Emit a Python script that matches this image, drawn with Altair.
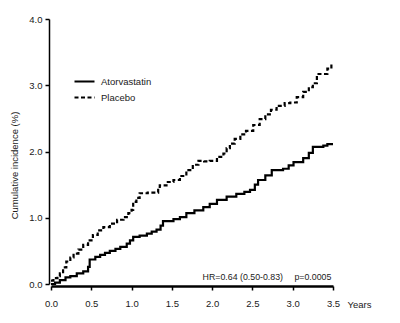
import altair as alt
import pandas as pd

# Atorvastatin (solid)
atorva_t = [0.00, 0.05, 0.11, 0.18, 0.24, 0.32, 0.40, 0.46, 0.48, 0.55, 0.61, 0.67, 0.73, 0.80,
            0.86, 0.94, 0.98, 1.02, 1.10, 1.19, 1.25, 1.31, 1.36, 1.39, 1.52, 1.60, 1.68, 1.78,
            1.89, 1.97, 2.06, 2.18, 2.30, 2.40, 2.47, 2.53, 2.57, 2.66, 2.74, 2.88, 2.95, 3.01,
            3.13, 3.20, 3.25, 3.38, 3.43, 3.50]
atorva_v = [0.00, 0.02, 0.06, 0.10, 0.12, 0.16, 0.19, 0.26, 0.37, 0.41, 0.44, 0.47, 0.50, 0.53,
            0.56, 0.61, 0.66, 0.71, 0.73, 0.76, 0.79, 0.82, 0.88, 0.95, 0.98, 1.01, 1.07, 1.11,
            1.16, 1.21, 1.27, 1.32, 1.36, 1.39, 1.42, 1.50, 1.57, 1.64, 1.72, 1.74, 1.79, 1.84,
            1.90, 1.98, 2.07, 2.09, 2.11, 2.11]

# Placebo (dashed)
placebo_t = [0.00, 0.03, 0.08, 0.11, 0.15, 0.19, 0.24, 0.28, 0.34, 0.40, 0.46, 0.52, 0.58, 0.65,
             0.73, 0.82, 0.90, 0.96, 1.00, 1.02, 1.06, 1.10, 1.20, 1.29, 1.33, 1.35, 1.45, 1.52,
             1.60, 1.68, 1.76, 1.83, 1.90, 1.97, 2.06, 2.14, 2.18, 2.22, 2.28, 2.35, 2.42, 2.51,
             2.59, 2.66, 2.73, 2.80, 2.90, 2.97, 3.05, 3.13, 3.20, 3.25, 3.30, 3.38, 3.43, 3.48]
placebo_v = [0.05, 0.09, 0.12, 0.16, 0.25, 0.34, 0.40, 0.46, 0.52, 0.59, 0.66, 0.74, 0.81, 0.86,
             0.91, 0.97, 1.01, 1.07, 1.12, 1.24, 1.30, 1.37, 1.38, 1.38, 1.44, 1.49, 1.54, 1.57,
             1.63, 1.72, 1.80, 1.86, 1.85, 1.86, 1.92, 1.97, 2.05, 2.12, 2.19, 2.26, 2.31, 2.40,
             2.49, 2.56, 2.63, 2.69, 2.73, 2.74, 2.82, 2.90, 2.97, 3.03, 3.17, 3.17, 3.25, 3.34]

groups = ["Atorvastatin", "Placebo"]
x_ticks = [0.0, 0.5, 1.0, 1.5, 2.0, 2.5, 3.0, 3.5]
y_ticks = [0.0, 0.5, 1.0, 1.5, 2.0, 2.5, 3.0, 3.5, 4.0]
annotation = ["HR=0.64 (0.50-0.83)", "p=0.0005"]
annotation_x = [2.88, 3.48]
annotation_y = [0.11, 0.11]

FONT = "Liberation Sans, Arial, sans-serif"
TXT = "#1a1a1a"

df = pd.concat([
    pd.DataFrame({"t": atorva_t, "v": atorva_v, "group": groups[0]}),
    pd.DataFrame({"t": placebo_t, "v": placebo_v, "group": groups[1]}),
])
ann = pd.DataFrame({"label": annotation, "t": annotation_x, "v": annotation_y})

x_scale = alt.Scale(domain=[0, 3.5], nice=False)
y_scale = alt.Scale(domain=[0, 4], nice=False)

lines = alt.Chart(df).mark_line(interpolate="step-after", color="black", strokeWidth=2.2).encode(
    x=alt.X("t:Q", scale=x_scale,
            axis=alt.Axis(values=x_ticks, format=".1f", title="Years", titleX=296, titleY=18,
                          titleAlign="left", titleBaseline="middle", titleFontWeight="normal",
                          titleFontSize=9.5, titleFont=FONT, labelFont=FONT, labelFontSize=9.5,
                          labelColor=TXT, titleColor=TXT, labelFlush=False,
                          domainWidth=2.5, domainColor="black", tickColor="black", tickWidth=1.5,
                          tickSize=4, labelPadding=8, grid=False, offset=2)),
    y=alt.Y("v:Q", scale=y_scale,
            axis=alt.Axis(values=y_ticks, labelExpr="datum.value % 1 == 0 ? format(datum.value, '.1f') : ''",
                          title="Cumulative incidence (%)", titleFont=FONT, titleFontSize=9.5,
                          titleFontWeight="normal", titleColor=TXT, titleY=146, titleX=-30,
                          labelFont=FONT, labelFontSize=9.5, labelColor=TXT, labelFlush=False,
                          domainWidth=1.5, domainColor="black", tickColor="black", tickWidth=1.5,
                          tickSize=4, labelPadding=3, grid=False, offset=2)),
    strokeDash=alt.StrokeDash("group:N",
                              scale=alt.Scale(domain=groups, range=[[1, 0], [4, 2.5]]),
                              legend=alt.Legend(title=None, orient="none", legendX=22, legendY=51,
                                                symbolType="stroke", symbolSize=400,
                                                symbolStrokeWidth=2.2, symbolStrokeColor="black",
                                                labelFont=FONT, labelFontSize=9.5, labelColor=TXT,
                                                rowPadding=-6, labelOffset=5)),
)

text = alt.Chart(ann).mark_text(align="right", baseline="middle", font=FONT, fontSize=8.8,
                                color=TXT).encode(
    x=alt.X("t:Q", scale=x_scale),
    y=alt.Y("v:Q", scale=y_scale),
    text="label:N",
)

chart = alt.layer(lines, text).properties(
    width=282, height=265,
    autosize=alt.AutoSizeParams(type="none"),
    padding={"left": 51, "top": 19, "right": 67, "bottom": 39},
    background="white",
).configure_view(stroke=None)

chart.save("out.html", embed_options={"renderer": "svg", "actions": False})
